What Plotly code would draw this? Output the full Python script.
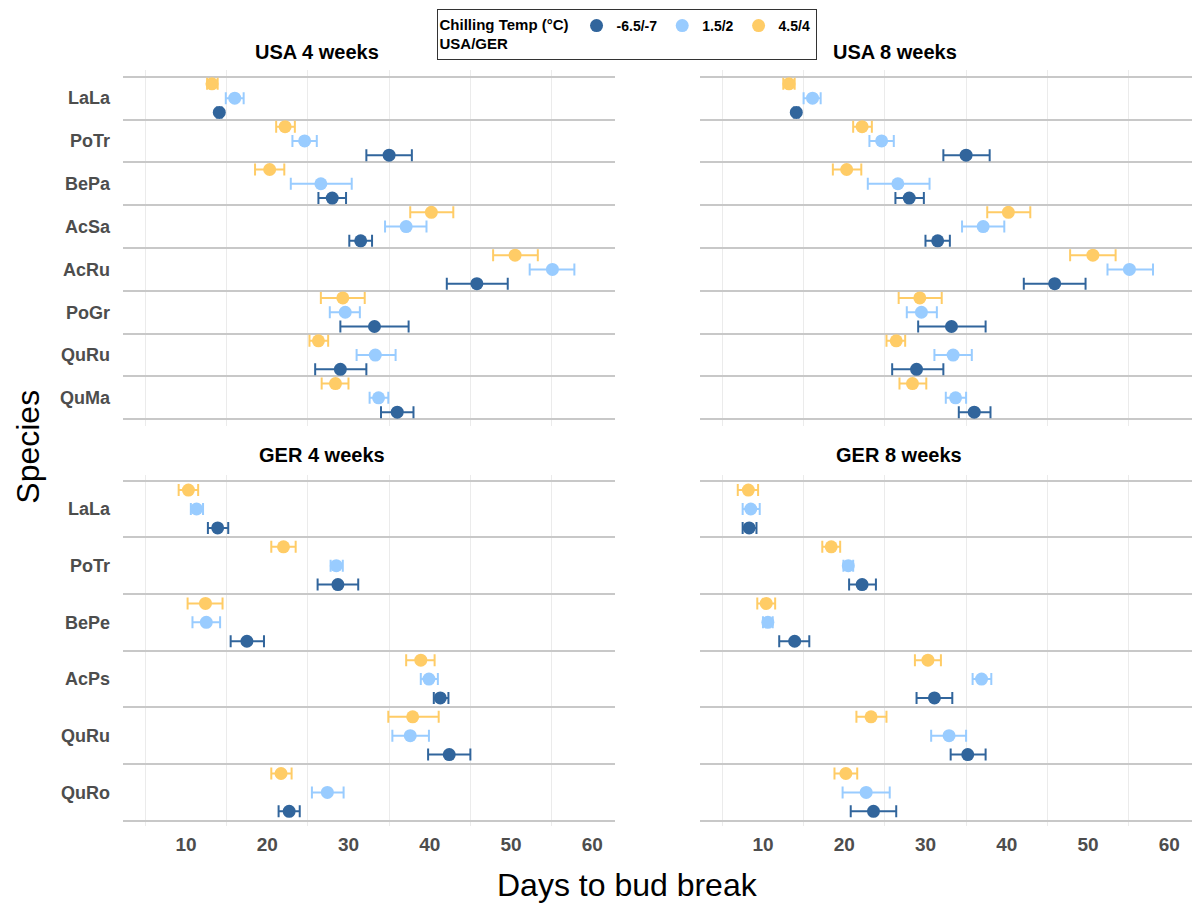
import plotly.graph_objects as go

# ---------------- data ----------------
temp_labels = ["-6.5/-7", "1.5/2", "4.5/4"]
temp_colors = ["#31659C", "#99CCFF", "#FFCC66"]

usa_species = ["LaLa", "PoTr", "BePa", "AcSa", "AcRu", "PoGr", "QuRu", "QuMa"]
ger_species = ["LaLa", "PoTr", "BePe", "AcPs", "QuRu", "QuRo"]

# USA 4 weeks
usa4_cold_mean = [14.1, 35.0, 28.0, 31.5, 45.8, 33.2, 29.0, 36.0]
usa4_cold_lo = [13.8, 32.2, 26.3, 30.1, 42.1, 29.0, 25.9, 34.0]
usa4_cold_hi = [14.4, 37.8, 29.7, 32.9, 49.6, 37.4, 32.2, 38.0]
usa4_mid_mean = [16.0, 24.6, 26.6, 37.1, 55.1, 29.6, 33.3, 33.7]
usa4_mid_lo = [14.9, 23.1, 22.9, 34.5, 52.3, 27.7, 31.0, 32.6]
usa4_mid_hi = [17.1, 26.1, 30.4, 39.6, 57.8, 31.4, 35.8, 34.9]
usa4_warm_mean = [13.2, 22.2, 20.3, 40.2, 50.5, 29.3, 26.3, 28.4]
usa4_warm_lo = [12.6, 21.1, 18.5, 37.6, 47.8, 26.6, 25.2, 26.7]
usa4_warm_hi = [13.9, 23.4, 22.1, 42.9, 53.3, 32.0, 27.5, 30.0]

# USA 8 weeks
usa8_cold_mean = [14.1, 35.0, 28.0, 31.5, 45.9, 33.2, 28.9, 36.0]
usa8_cold_lo = [13.8, 32.2, 26.3, 30.0, 42.1, 29.1, 25.9, 34.1]
usa8_cold_hi = [14.4, 37.9, 29.8, 33.0, 49.7, 37.4, 32.2, 38.0]
usa8_mid_mean = [16.1, 24.6, 26.6, 37.1, 55.1, 29.5, 33.4, 33.7]
usa8_mid_lo = [15.0, 23.1, 22.9, 34.5, 52.4, 27.7, 31.1, 32.5]
usa8_mid_hi = [17.1, 26.1, 30.5, 39.7, 58.0, 31.4, 35.7, 35.0]
usa8_warm_mean = [13.2, 22.2, 20.3, 40.2, 50.6, 29.3, 26.4, 28.4]
usa8_warm_lo = [12.5, 21.1, 18.6, 37.6, 47.8, 26.7, 25.2, 26.8]
usa8_warm_hi = [13.9, 23.4, 22.1, 42.9, 53.4, 32.0, 27.5, 30.1]

# GER 4 weeks
ger4_cold_mean = [13.9, 28.7, 17.5, 41.3, 42.4, 22.7]
ger4_cold_lo = [12.7, 26.2, 15.5, 40.5, 39.8, 21.4]
ger4_cold_hi = [15.2, 31.2, 19.6, 42.3, 45.0, 24.0]
ger4_mid_mean = [11.3, 28.5, 12.5, 39.9, 37.6, 27.4]
ger4_mid_lo = [10.6, 27.8, 10.8, 38.9, 35.4, 25.5]
ger4_mid_hi = [12.1, 29.3, 14.2, 41.0, 39.9, 29.4]
ger4_warm_mean = [10.3, 22.0, 12.4, 38.9, 37.9, 21.7]
ger4_warm_lo = [9.1, 20.5, 10.2, 37.1, 34.9, 20.5]
ger4_warm_hi = [11.5, 23.5, 14.5, 40.6, 41.1, 23.0]

# GER 8 weeks
ger8_cold_mean = [8.3, 22.2, 13.9, 31.1, 35.2, 23.6]
ger8_cold_lo = [7.5, 20.6, 12.0, 28.9, 33.1, 20.8]
ger8_cold_hi = [9.2, 23.9, 15.7, 33.3, 37.4, 26.4]
ger8_mid_mean = [8.5, 20.5, 10.6, 36.9, 32.9, 22.7]
ger8_mid_lo = [7.5, 19.9, 10.0, 35.8, 30.7, 19.8]
ger8_mid_hi = [9.6, 21.1, 11.2, 38.1, 35.0, 25.6]
ger8_warm_mean = [8.2, 18.4, 10.4, 30.3, 23.3, 20.2]
ger8_warm_lo = [6.9, 17.3, 9.3, 28.7, 21.5, 18.8]
ger8_warm_hi = [9.4, 19.5, 11.5, 31.9, 25.2, 21.6]

x_ticks = [10, 20, 30, 40, 50, 60]
x_grid = [5, 15, 25, 35, 45, 55]

panels = [
    ("USA 4 weeks", usa_species, [
        (usa4_cold_mean, usa4_cold_lo, usa4_cold_hi),
        (usa4_mid_mean, usa4_mid_lo, usa4_mid_hi),
        (usa4_warm_mean, usa4_warm_lo, usa4_warm_hi)]),
    ("USA 8 weeks", usa_species, [
        (usa8_cold_mean, usa8_cold_lo, usa8_cold_hi),
        (usa8_mid_mean, usa8_mid_lo, usa8_mid_hi),
        (usa8_warm_mean, usa8_warm_lo, usa8_warm_hi)]),
    ("GER 4 weeks", ger_species, [
        (ger4_cold_mean, ger4_cold_lo, ger4_cold_hi),
        (ger4_mid_mean, ger4_mid_lo, ger4_mid_hi),
        (ger4_warm_mean, ger4_warm_lo, ger4_warm_hi)]),
    ("GER 8 weeks", ger_species, [
        (ger8_cold_mean, ger8_cold_lo, ger8_cold_hi),
        (ger8_mid_mean, ger8_mid_lo, ger8_mid_hi),
        (ger8_warm_mean, ger8_warm_lo, ger8_warm_hi)]),
]

# ---------------- layout geometry ----------------
W, H = 1193, 905
FONT = "Liberation Sans, Arial, sans-serif"
x_doms = [(123 / W, 615 / W), (700 / W, 1192 / W)] * 2
y_doms = [(1 - 425.7 / H, 1 - 70.3 / H)] * 2 + [(1 - 826.4 / H, 1 - 475.0 / H)] * 2
title_pos = [(317.3, 52), (894.5, 52), (321.8, 455), (899, 455)]
dodge = [1 / 3, 0.0, -1 / 3]  # cold bottom, mid centre, warm top (reversed axis)

fig = go.Figure()
layout = dict(
    width=W, height=H,
    margin=dict(l=0, r=0, t=0, b=0),
    paper_bgcolor="white", plot_bgcolor="white",
    font=dict(family=FONT),
    showlegend=True,
    annotations=[],
)

for p, (title, species, groups) in enumerate(panels):
    ax = "" if p == 0 else str(p + 1)
    n = len(species)
    idx = list(range(1, n + 1))
    for g, (mean, lo, hi) in enumerate(groups):
        fig.add_trace(go.Scatter(
            x=mean,
            y=[i + dodge[g] for i in idx],
            mode="markers",
            name=temp_labels[g],
            legendgroup=temp_labels[g],
            showlegend=(p == 0),
            marker=dict(color=temp_colors[g], size=13),
            error_x=dict(
                type="data", symmetric=False,
                array=[h - m for h, m in zip(hi, mean)],
                arrayminus=[m - l for m, l in zip(mean, lo)],
                color=temp_colors[g], thickness=2, width=6,
            ),
            xaxis="x" + ax, yaxis="y" + ax,
            hoverinfo="x+name",
        ))
    bottom = p >= 2
    left = p % 2 == 0
    layout["xaxis" + ax] = dict(
        domain=x_doms[p], anchor="y" + ax, range=[2.25, 62.8],
        tickvals=x_ticks, ticktext=[str(v) for v in x_ticks],
        showticklabels=bottom, showgrid=False, zeroline=False,
        showline=False, ticks="",
        tickfont=dict(family=FONT, size=19, color="#4d4d4d", weight="bold"),
        ticklabelstandoff=5,
        minor=dict(tickvals=x_grid, showgrid=True, gridcolor="#ebebeb",
                   gridwidth=1, ticks=""),
    )
    layout["yaxis" + ax] = dict(
        domain=y_doms[p], anchor="x" + ax,
        range=[n + 0.5 + (0.15 if n == 8 else 0.1), 0.5 - (0.15 if n == 8 else 0.1)],
        tickvals=idx, ticktext=species,
        showticklabels=left, showgrid=False, zeroline=False,
        showline=False, ticks="",
        tickfont=dict(family=FONT, size=18, color="#4d4d4d", weight="bold"),
        ticklabelstandoff=12,
        minor=dict(tickvals=[i - 0.5 for i in idx] + [n + 0.5], showgrid=True,
                   gridcolor="#c8c8c8", gridwidth=2, ticks=""),
    )
    tx, ty = title_pos[p]
    layout["annotations"].append(dict(
        text="<b>" + title + "</b>", x=tx / W, y=1 - ty / H,
        xref="paper", yref="paper", xanchor="center", yanchor="middle",
        showarrow=False, font=dict(family=FONT, size=20, color="black"),
    ))

layout["annotations"].append(dict(
    text="Days to bud break", x=627 / W, y=1 - 885 / H, xref="paper", yref="paper",
    xanchor="center", yanchor="middle", showarrow=False,
    font=dict(family=FONT, size=32, color="black"),
))
layout["annotations"].append(dict(
    text="Species", x=28 / W, y=1 - 446.7 / H, xref="paper", yref="paper",
    xanchor="center", yanchor="middle", showarrow=False, textangle=-90,
    font=dict(family=FONT, size=32, color="black"),
))

layout["legend"] = dict(
    orientation="h", x=626.5 / W, xanchor="center", y=1 - 9 / H, yanchor="top",
    bgcolor="white", bordercolor="#333333", borderwidth=1,
    font=dict(family=FONT, size=14, color="black", weight="bold"),
    title=dict(text="<b>Chilling Temp (°C)<br>USA/GER</b>", side="left",
               font=dict(family=FONT, size=15, color="black")),
    itemwidth=30, traceorder="normal",
)

fig.update_layout(**layout)
fig.write_html("out.html")
